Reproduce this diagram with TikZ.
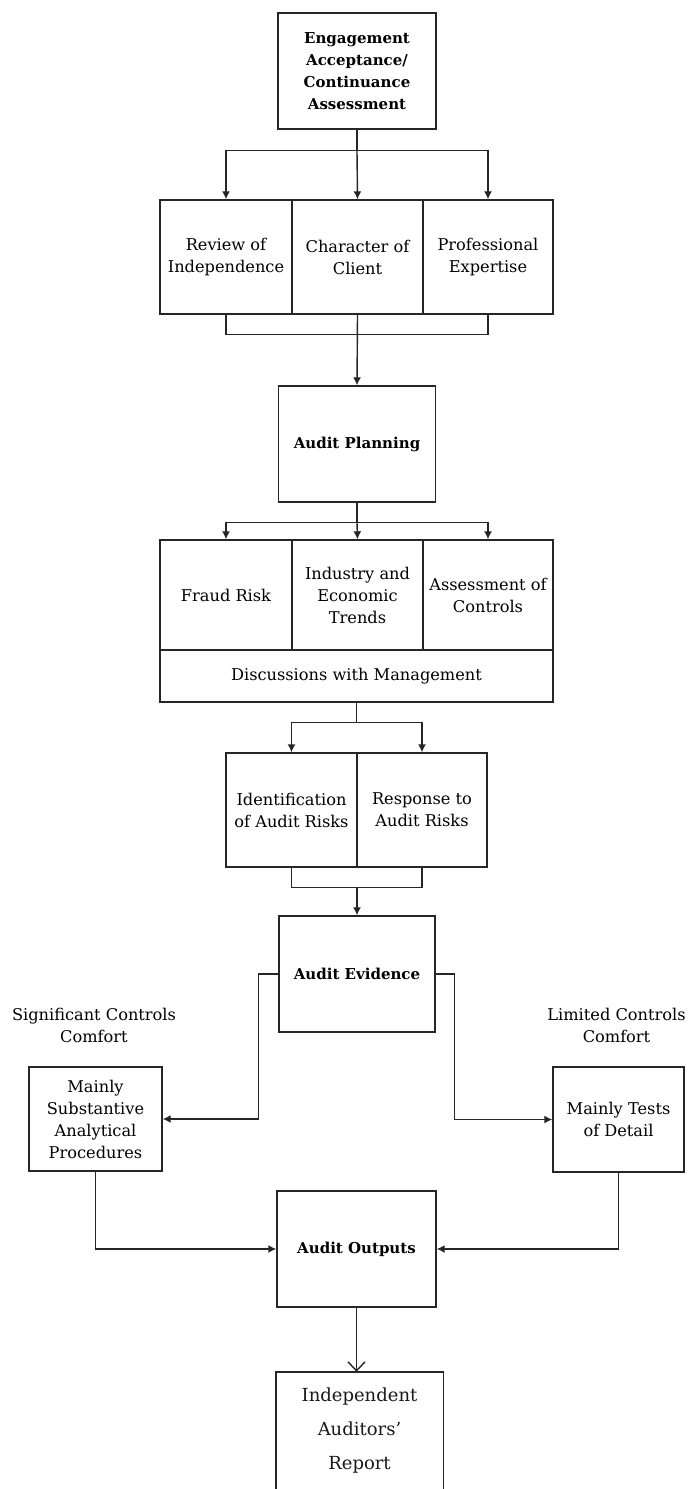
\documentclass[tikz,border=0pt]{standalone}
\usepackage{fontspec}
\setmainfont{DejaVu Serif}
\usetikzlibrary{arrows.meta}
\begin{document}
\begin{tikzpicture}[x=1pt,y=-1pt,
  ln/.style={draw=black!85, line width=1.4pt},
  arr/.style={-{Latex[length=8pt,width=8pt]}},
  box/.style={draw=black!85, line width=1.4pt, inner sep=0pt, align=center,
              font=\fontsize{16.2}{22}\selectfont},
  bbox/.style={box, font=\fontsize{15}{22}\selectfont\bfseries},
  lbl/.style={inner sep=0pt, align=center, font=\fontsize{16.2}{22}\selectfont}
]
\useasboundingbox (0,0) rectangle (688,1489);

% top
\node[bbox, minimum width=158pt, minimum height=116pt] (eng) at (357,71)
  {Engagement\\Acceptance/\\Continuance\\Assessment};

% row 1
\node[box, minimum width=132pt, minimum height=114pt] (rev) at (226,257) {Review of\\Independence};
\node[box, minimum width=131pt, minimum height=114pt] (cha) at (357.5,257) {Character of\\Client};
\node[box, minimum width=130pt, minimum height=114pt] (pro) at (488,257) {Professional\\Expertise};

\path (eng.south) ++(0,21) coordinate (t1);
\draw[ln] (eng.south) -- (t1);
\draw[ln,arr] (t1) -- (cha.north);
\draw[ln,arr] (t1) -| (rev.north);
\draw[ln,arr] (t1) -| (pro.north);

\draw[ln] (rev.south) -- ++(0,20) -| (pro.south);

% audit planning
\node[bbox, minimum width=157pt, minimum height=116pt] (plan) at (357,444) {Audit Planning};
\draw[ln,arr] (cha.south) -- (plan.north);

% row 2
\node[box, minimum width=132pt, minimum height=110pt] (fra) at (226,595) {Fraud Risk};
\node[box, minimum width=131pt, minimum height=110pt] (ind) at (357.5,595) {Industry and\\Economic\\Trends};
\node[box, minimum width=130pt, minimum height=110pt] (ass) at (488,595) {Assessment of\\Controls};
\node[box, minimum width=393pt, minimum height=52pt] (dis) at (356.5,676) {Discussions with Management};

\path (plan.south) ++(0,20) coordinate (t2);
\draw[ln] (plan.south) -- (t2);
\draw[ln,arr] (t2) -- (ind.north);
\draw[ln,arr] (t2) -| (fra.north);
\draw[ln,arr] (t2) -| (ass.north);

% row 3
\node[box, minimum width=131pt, minimum height=114pt] (idn) at (291.5,810) {Identification\\of Audit Risks};
\node[box, minimum width=130pt, minimum height=114pt] (res) at (422,810) {Response to\\Audit Risks};

\path (dis.south) ++(0,20) coordinate (t3);
\draw[ln] (dis.south) -- (t3);
\draw[ln,arr] (t3) -| (idn.north);
\draw[ln,arr] (t3) -| (res.north);

\draw[ln] (idn.south) -- ++(0,20) coordinate (b3) -| (res.south);

% audit evidence
\node[bbox, minimum width=156pt, minimum height=116pt] (ae) at (357,974) {Audit Evidence};
\draw[ln,arr] (b3 -| ae.north) -- (ae.north);

% labels
\node[lbl] (sig) at (94,1025) {Significant Controls\\Comfort};
\node[lbl] (lim) at (616.5,1025) {Limited Controls\\Comfort};

% side boxes
\node[box, minimum width=133pt, minimum height=104pt] (msap) at (95.5,1119)
  {Mainly\\Substantive\\Analytical\\Procedures};
\node[box, minimum width=131pt, minimum height=105pt] (mtd) at (618.5,1119.5)
  {Mainly Tests\\of Detail};

\draw[ln,arr] (ae.west) -- ++(-20,0) |- (msap.east);
\draw[ln,arr] (ae.east) -- ++(19,0) |- (mtd.west);

% audit outputs
\node[bbox, minimum width=159pt, minimum height=116pt] (ao) at (356.5,1249) {Audit Outputs};
\draw[ln,arr] (msap.south) |- (ao.west);
\draw[ln,arr] (mtd.south) |- (ao.east);

% report
\node[inner sep=0pt, align=center, minimum width=167pt, minimum height=117pt,
      font=\fontsize{18}{34}\selectfont, text=black!90] (iar) at (359.5,1430.5)
  {Independent\\Auditors’\\Report};
\draw[ln] (iar.south west) |- (iar.north east) -- (iar.south east);
\draw[ln,-{Straight Barb[length=9pt,width=17pt,line width=1.4pt]}] (ao.south) -- (ao.south |- iar.north);
\end{tikzpicture}
\end{document}
